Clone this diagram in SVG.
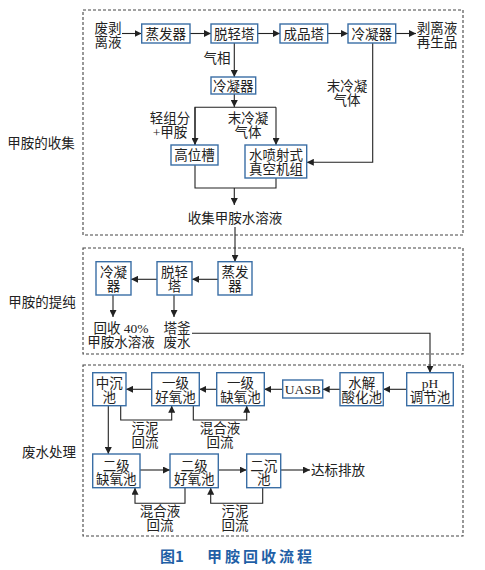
<svg xmlns="http://www.w3.org/2000/svg" width="485" height="570" viewBox="0 0 485 570">
<defs>
<marker id="ah" viewBox="0 0 10 10" refX="10" refY="5" markerWidth="7" markerHeight="7" markerUnits="userSpaceOnUse" orient="auto">
<path d="M0,0 L10,5 L0,10 z" fill="#222"/>
</marker>
<style>
.box{fill:#fff;stroke:#3a6ea5;stroke-width:1.4}
.frame{fill:none;stroke:#444;stroke-width:1.1;stroke-dasharray:3 2}
.t{font-family:"Liberation Serif","Noto Sans CJK SC",serif;font-size:13.5px;fill:#222;text-anchor:middle}
.ln{fill:none;stroke:#222;stroke-width:1.1}
.ar{fill:none;stroke:#222;stroke-width:1.1;marker-end:url(#ah)}
.title{font-family:"Noto Sans CJK SC",sans-serif;font-size:15px;font-weight:bold;fill:#1f5fa6}
</style>
</defs>
<rect width="485" height="570" fill="#fff"/>
<g id="frames">
<rect class="frame" x="83" y="10" width="380" height="225"/>
<rect class="frame" x="83" y="248" width="380" height="106"/>
<rect class="frame" x="83" y="365" width="380" height="171"/>
</g>
<g id="labels">
<text class="t" x="41" y="148">甲胺的收集</text>
<text class="t" x="42" y="306.5">甲胺的提纯</text>
<text class="t" x="49" y="456.5">废水处理</text>
<text class="t" x="108" y="33">废剥<tspan x="108" dy="13.5">离液</tspan></text>
<text class="t" x="437" y="33">剥离液<tspan x="437" dy="13.5">再生品</tspan></text>
<text class="t" x="217" y="63">气相</text>
<text class="t" x="170" y="123">轻组分<tspan x="170" dy="14">+甲胺</tspan></text>
<text class="t" x="248" y="123">末冷凝<tspan x="248" dy="14">气体</tspan></text>
<text class="t" x="347" y="91">末冷凝<tspan x="347" dy="13.5">气体</tspan></text>
<text class="t" x="235" y="223">收集甲胺水溶液</text>
<text class="t" x="121" y="332.5">回收 40%<tspan x="121" dy="14">甲胺水溶液</tspan></text>
<text class="t" x="177" y="332.5">塔釜<tspan x="177" dy="14">废水</tspan></text>
<text class="t" x="145" y="432.5">污泥<tspan x="145" dy="14">回流</tspan></text>
<text class="t" x="220" y="432.5">混合液<tspan x="220" dy="14">回流</tspan></text>
<text class="t" x="338" y="475">达标排放</text>
<text class="t" x="160" y="516">混合液<tspan x="160" dy="13.5">回流</tspan></text>
<text class="t" x="235" y="516">污泥<tspan x="235" dy="13.5">回流</tspan></text>
</g>
<g id="connectors">
<line class="ar" x1="122" y1="33.5" x2="141.5" y2="33.5"/>
<line class="ar" x1="190" y1="33.5" x2="211" y2="33.5"/>
<line class="ar" x1="257.5" y1="33.5" x2="280" y2="33.5"/>
<line class="ar" x1="327.5" y1="33.5" x2="348" y2="33.5"/>
<line class="ar" x1="395.5" y1="33.5" x2="416" y2="33.5"/>
<line class="ar" x1="234.3" y1="43" x2="234.3" y2="77"/>
<line class="ar" x1="234.3" y1="94" x2="234.3" y2="107"/>
<polyline class="ln" points="195,145 195,107.3 276,107.3"/>
<line class="ar" x1="195" y1="107.3" x2="195" y2="145"/>
<line class="ar" x1="276" y1="107.3" x2="276" y2="145"/>
<polyline class="ar" points="372.7,43 372.7,162.3 306.8,162.3"/>
<polyline class="ln" points="195,165 195,188 276,188 276,178"/>
<line class="ar" x1="234.3" y1="188" x2="234.3" y2="205"/>
<line class="ar" x1="235" y1="227" x2="235" y2="261.7"/>
<line class="ar" x1="218" y1="279.3" x2="192" y2="279.3"/>
<line class="ar" x1="157" y1="279.3" x2="131" y2="279.3"/>
<line class="ar" x1="113" y1="295" x2="113" y2="317"/>
<line class="ar" x1="174" y1="295" x2="174" y2="317"/>
<polyline class="ar" points="192,333.3 430,333.3 430,372.7"/>
<line class="ar" x1="406.7" y1="389.3" x2="383.3" y2="389.3"/>
<line class="ar" x1="340" y1="389.3" x2="322.7" y2="389.3"/>
<line class="ar" x1="282.7" y1="389.3" x2="264.3" y2="389.3"/>
<line class="ar" x1="216.7" y1="389.3" x2="199.3" y2="389.3"/>
<line class="ar" x1="151.7" y1="389.3" x2="126" y2="389.3"/>
<line class="ar" x1="108.3" y1="405.7" x2="108.3" y2="454"/>
<polyline class="ar" points="120.7,405.7 120.7,420 171.7,420 171.7,405.7"/>
<polyline class="ar" points="193.3,405.7 193.3,420 246.7,420 246.7,405.7"/>
<line class="ar" x1="140" y1="470" x2="170" y2="470"/>
<line class="ar" x1="218.3" y1="470" x2="246.7" y2="470"/>
<line class="ar" x1="280.7" y1="470" x2="310" y2="470"/>
<polyline class="ar" points="185,487.7 185,503.3 135,503.3 135,487.7"/>
<polyline class="ar" points="262.7,487.7 262.7,503.3 210.7,503.3 210.7,487.7"/>
</g>
<g id="n-evap1"><rect class="box" x="141.7" y="24" width="48.3" height="19"/><text class="t" x="165.8" y="38.5">蒸发器</text></g>
<g id="n-strip1"><rect class="box" x="211" y="24" width="46.7" height="19"/><text class="t" x="234.3" y="38.5">脱轻塔</text></g>
<g id="n-product"><rect class="box" x="280" y="24" width="47.7" height="19"/><text class="t" x="303.8" y="38.5">成品塔</text></g>
<g id="n-cond1"><rect class="box" x="348" y="24" width="47.7" height="19"/><text class="t" x="371.8" y="38.5">冷凝器</text></g>
<g id="n-cond2"><rect class="box" x="211" y="77" width="44.7" height="17"/><text class="t" x="233.3" y="90.5">冷凝器</text></g>
<g id="n-tank"><rect class="box" x="171" y="145" width="47" height="20"/><text class="t" x="194.5" y="160">高位槽</text></g>
<g id="n-vacuum"><rect class="box" x="245" y="145" width="61.7" height="33"/><text class="t" x="276" y="159.5">水喷射式<tspan x="276" dy="14">真空机组</tspan></text></g>
<g id="n-evap2"><rect class="box" x="218" y="261.7" width="34" height="33.3"/><text class="t" x="235" y="276.7">蒸发<tspan x="235" dy="14">器</tspan></text></g>
<g id="n-strip2"><rect class="box" x="157" y="261.7" width="35" height="33.3"/><text class="t" x="174.5" y="276.7">脱轻<tspan x="174.5" dy="14">塔</tspan></text></g>
<g id="n-cond3"><rect class="box" x="96" y="261.7" width="35" height="33.3"/><text class="t" x="113.5" y="276.7">冷凝<tspan x="113.5" dy="14">器</tspan></text></g>
<g id="n-ph"><rect class="box" x="406.7" y="372.7" width="46.6" height="33"/><text class="t" x="430" y="387.5">pH<tspan x="430" dy="14">调节池</tspan></text></g>
<g id="n-hydro"><rect class="box" x="340" y="372.7" width="43.3" height="33"/><text class="t" x="361.7" y="387.5">水解<tspan x="361.7" dy="14">酸化池</tspan></text></g>
<g id="n-uasb"><rect class="box" x="282.7" y="380" width="40" height="18"/><text class="t" x="302.7" y="394">UASB</text></g>
<g id="n-anox1"><rect class="box" x="216.7" y="372.7" width="47.6" height="33"/><text class="t" x="240.5" y="387.5">一级<tspan x="240.5" dy="14">缺氧池</tspan></text></g>
<g id="n-oxic1"><rect class="box" x="151.7" y="372.7" width="47.6" height="33"/><text class="t" x="175.5" y="387.5">一级<tspan x="175.5" dy="14">好氧池</tspan></text></g>
<g id="n-midsed"><rect class="box" x="92.7" y="372.7" width="33.3" height="33"/><text class="t" x="109.3" y="387.5">中沉<tspan x="109.3" dy="14">池</tspan></text></g>
<g id="n-anox2"><rect class="box" x="92.7" y="454" width="47.3" height="33.7"/><text class="t" x="116.3" y="470.5">二级<tspan x="116.3" dy="13.5">缺氧池</tspan></text></g>
<g id="n-oxic2"><rect class="box" x="170" y="454" width="48.3" height="33.7"/><text class="t" x="194.2" y="470.5">二级<tspan x="194.2" dy="13.5">好氧池</tspan></text></g>
<g id="n-sed2"><rect class="box" x="246.7" y="454" width="34" height="33.7"/><text class="t" x="263.7" y="470.5">二沉<tspan x="263.7" dy="13.5">池</tspan></text></g>
<g id="caption">
<text class="title" x="160" y="562">图1</text>
<text class="title" x="207" y="562" textLength="105">甲胺回收流程</text>
</g>
</svg>
